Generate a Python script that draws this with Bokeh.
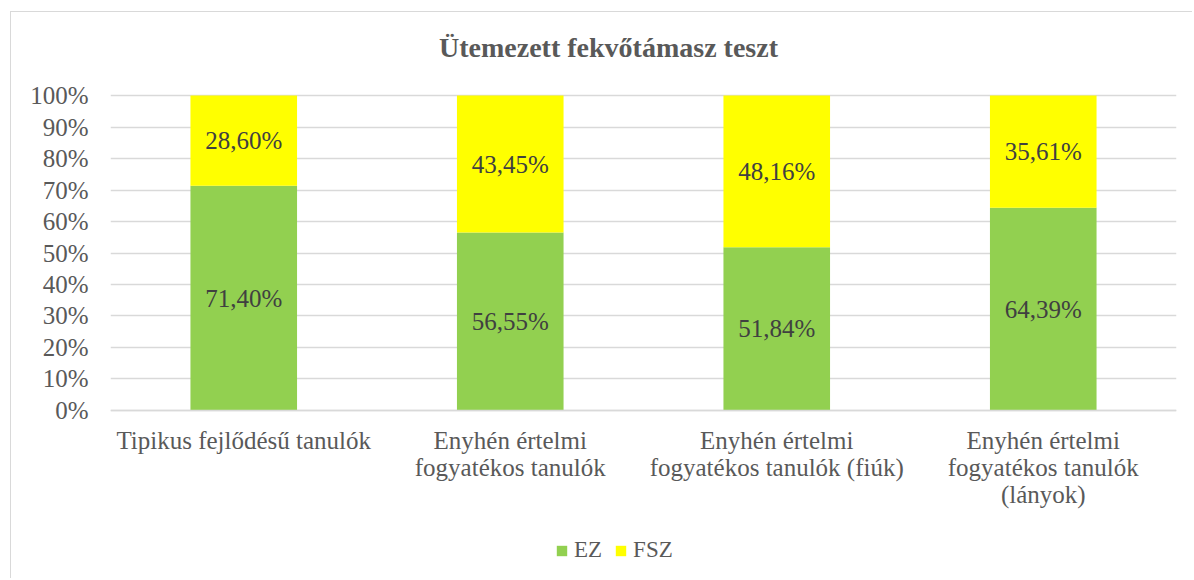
from bokeh.plotting import figure
from bokeh.models import (FactorRange, Range1d, FixedTicker, ColumnDataSource, Legend, LegendItem, Label)
from bokeh.core.properties import value
from bokeh.embed import file_html
from bokeh.resources import INLINE

title_text = "Ütemezett fekvőtámasz teszt"
categories = [
    "Tipikus fejlődésű tanulók",
    "Enyhén értelmi\nfogyatékos tanulók",
    "Enyhén értelmi\nfogyatékos tanulók (fiúk)",
    "Enyhén értelmi\nfogyatékos tanulók\n(lányok)",
]
ez = [71.40, 56.55, 51.84, 64.39]
fsz = [28.60, 43.45, 48.16, 35.61]
series_names = ["EZ", "FSZ"]
y_ticks = list(range(0, 101, 10))

FONT = "Liberation Serif"
GREEN = "#92D050"
YELLOW = "#FFFF00"
GRAY = "#595959"

def fmt(v):
    return f"{v:.2f}".replace(".", ",") + "%"

source = ColumnDataSource(dict(cat=categories, EZ=ez, FSZ=fsz))

# the plotting frame extends below 0 and above 100 to hold labels, title and legend
p = figure(x_range=FactorRange(*categories), y_range=Range1d(-53.7, 126.4),
           width=1182, height=567, output_backend="svg", toolbar_location=None,
           margin=(11, 0, 0, 10),
           styles={"border-left": "1px solid #d9d9d9", "border-top": "1px solid #d9d9d9"},
           min_border_left=99, min_border_right=17, min_border_top=0, min_border_bottom=0)
p.title.visible = False
p.outline_line_color = None
p.background_fill_color = "white"
p.border_fill_color = "white"

renderers = p.vbar_stack(series_names, x="cat", width=0.4, color=[GREEN, YELLOW],
                         line_color=None, source=source)

# data labels
mid_ez = [v / 2 for v in ez]
mid_fsz = [e + f / 2 for e, f in zip(ez, fsz)]
lab_src = ColumnDataSource(dict(
    x=categories + categories,
    y=mid_ez + mid_fsz,
    t=[fmt(v) for v in ez] + [fmt(v) for v in fsz],
))
p.text(x="x", y="y", text="t", source=lab_src, text_align="center", text_baseline="middle",
       text_font=value(FONT), text_font_size="25px", text_color="#404040")

# axes
p.yaxis.ticker = FixedTicker(ticks=y_ticks)
p.yaxis.major_label_overrides = {t: f"{t}%" for t in y_ticks}
p.yaxis.axis_line_color = None
p.yaxis.major_tick_line_color = None
p.yaxis.minor_tick_line_color = None
p.yaxis.major_tick_out = 0
p.yaxis.major_label_standoff = 22
p.yaxis.major_label_text_font = FONT
p.yaxis.major_label_text_font_size = "25px"
p.yaxis.major_label_text_color = GRAY

p.xaxis.fixed_location = 0
p.xaxis.axis_line_color = "#d9d9d9"
p.xaxis.axis_line_width = 1.5
p.xaxis.major_tick_line_color = None
p.xaxis.minor_tick_line_color = None
p.xaxis.major_tick_out = 0
p.xaxis.major_label_standoff = 17
p.xaxis.major_label_text_font = FONT
p.xaxis.major_label_text_font_size = "25px"
p.xaxis.major_label_text_line_height = 1.0
p.xaxis.major_label_text_color = GRAY

p.xgrid.grid_line_color = None
p.ygrid.grid_line_color = "#d9d9d9"
p.ygrid.grid_line_width = 1.5

# chart title, centred on the whole chart box (slightly left of the plot centre)
title = Label(x=len(categories) / 2, y=115.4, x_offset=-35, text=title_text,
              text_align="center", text_baseline="middle",
              text_font=FONT, text_font_size="28px", text_font_style="bold", text_color=GRAY)
p.add_layout(title)

legend = Legend(items=[LegendItem(label=n, renderers=[r]) for n, r in zip(series_names, renderers)],
                orientation="horizontal", location=(445, 16),
                label_text_font=FONT, label_text_font_size="23px", label_text_color=GRAY,
                glyph_width=13, glyph_height=13, spacing=12, label_standoff=6,
                border_line_color=None, background_fill_alpha=0, margin=0, padding=0)
p.add_layout(legend, "center")

open("out.html", "w").write(file_html(p, INLINE))
